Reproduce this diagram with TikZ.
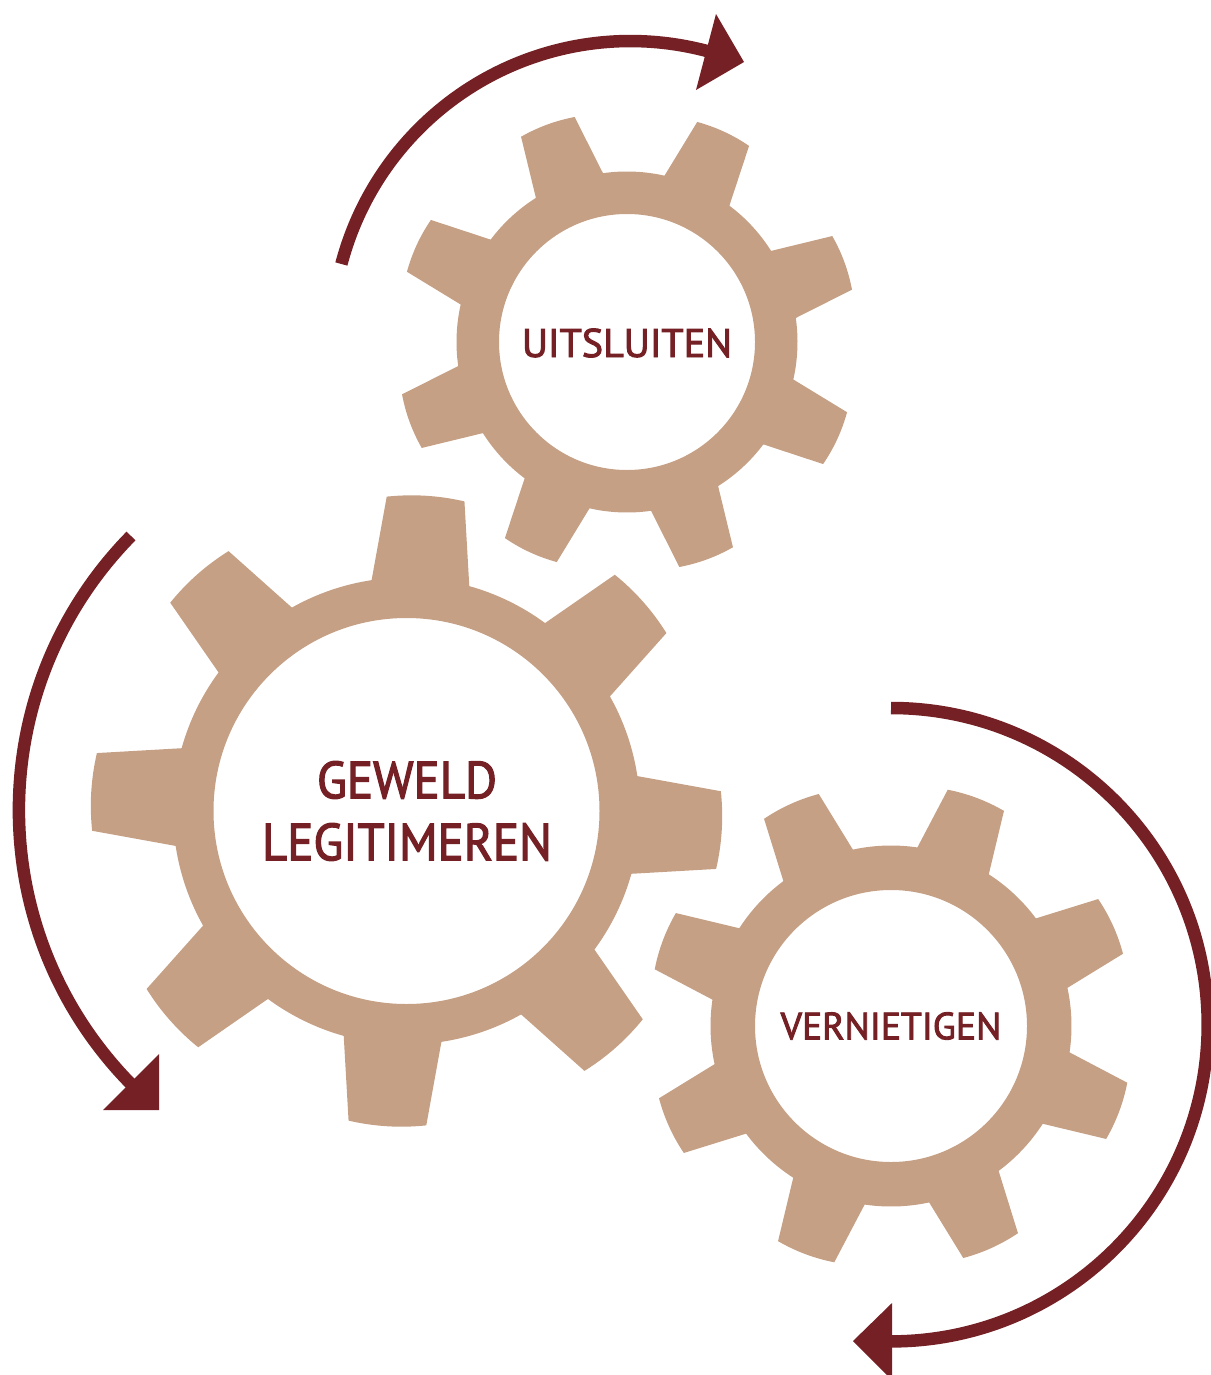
\documentclass[tikz,border=0pt]{standalone}
\usepackage{fontspec}
\setmainfont{PT Sans}
\newfontface\labelfont[FakeBold=2.4]{PT Sans}
\definecolor{gearc}{HTML}{C5A085}
\definecolor{wine}{HTML}{742024}
\newcommand{\gearshape}[8]{% cx cy Rroot Rout Rhole rot halfroot halftip
  \begin{scope}[shift={(#1,#2)},y=1pt]
  \pgfmathsetmacro{\rc}{#4*1.007}
  \fill[gearc,even odd rule]
    \foreach \k in {0,...,7}{
      \pgfextra{\pgfmathsetmacro{\aa}{#6-45*\k}
        \pgfmathsetmacro{\ra}{\aa+#7}\pgfmathsetmacro{\rb}{\aa-#7}
        \pgfmathsetmacro{\ta}{\aa+#8}\pgfmathsetmacro{\tb}{\aa-#8}
        \pgfmathsetmacro{\ca}{\aa+0.33*#8}\pgfmathsetmacro{\cb}{\aa-0.33*#8}
        \pgfmathsetmacro{\rn}{\aa-45+#7}}
      \ifnum\k=0 (\ra:#3pt)\else -- (\ra:#3pt)\fi
      -- (\ta:#4pt)
      .. controls (\ca:\rc pt) and (\cb:\rc pt) .. (\tb:#4pt)
      -- (\rb:#3pt)
      arc[start angle=\rb,end angle=\rn,radius=#3pt]
    } -- cycle
    (0,0) circle[radius=#5pt];
  \end{scope}
}
\begin{document}
\begin{tikzpicture}[x=1pt,y=-1pt,
  gearlabel/.style={text=wine,align=center,inner sep=0pt},
  arcline/.style={draw=wine,line width=12.5pt},
  tip/.style={fill=wine}]
\useasboundingbox (0,0) rectangle (1210,1375);
\gearshape{406.5}{811}{233.5}{315}{193}{86.5}{12.1}{7.1}
\gearshape{627}{342}{170.5}{231}{128}{110.2}{12.1}{7.1}
\gearshape{891}{1026}{180.5}{243}{136}{114.4}{12.2}{7.1}
\node[gearlabel,font=\fontsize{52}{62}\selectfont\labelfont,xscale=0.94] (geweld) at (407,811) {GEWELD\\LEGITIMEREN};
\node[gearlabel,font=\fontsize{40}{48}\selectfont\labelfont,xscale=1] (uit) at (627,343) {UITSLUITEN};
\node[gearlabel,font=\fontsize{38}{46}\selectfont\labelfont,xscale=0.99] (ver) at (891,1026) {VERNIETIGEN};
\draw[arcline] (341.4,264) arc[start angle=165.3,end angle=75.2,radius=298.8pt];
\fill[tip] (716,14) -- (744,62) -- (696,90) -- cycle;
\draw[arcline] (131,536) arc[start angle=135.5,end angle=224.5,radius=391pt];
\fill[tip] (159,1054) -- (159,1110) -- (103,1110) -- cycle;
\draw[arcline] (891,708) arc[start angle=90,end angle=-90,radius=316.7pt];
\fill[tip] (892,1303) -- (892,1380) -- (853,1341) -- cycle;
\end{tikzpicture}
\end{document}
